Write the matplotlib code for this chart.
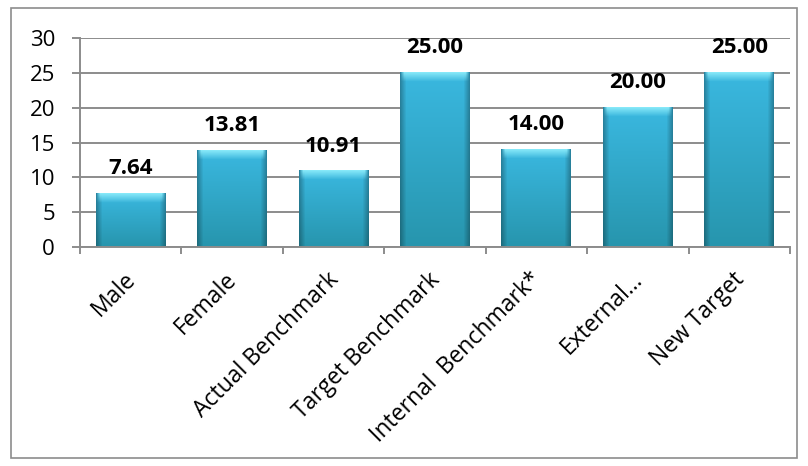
import numpy as np
import matplotlib.pyplot as plt
from matplotlib.patches import Rectangle

categories = ['Male', 'Female', 'Actual Benchmark', 'Target Benchmark',
              'Internal  Benchmark*', 'External...', 'New Target']
values = [7.64, 13.81, 10.91, 25.00, 14.00, 20.00, 25.00]

plt.rcParams['font.family'] = ['Open Sans', 'DejaVu Sans']

fig = plt.figure(figsize=(8.08, 4.66), dpi=100)
ax = fig.add_axes([80 / 808, 1 - 247 / 466, 710 / 808, 209 / 466])

# outer chart border
fig.patches.append(Rectangle((11 / 808, 1 - 458 / 466), 786 / 808, 450 / 466,
                             transform=fig.transFigure, fill=False,
                             edgecolor='#8c8c8c', linewidth=1.2))

x = np.arange(len(categories))
width = 0.69
ymax = 30
px_per_unit = 209 / ymax
bars = ax.bar(x, values, width=width, color='#33a9cf', zorder=2)

top_c = np.array([0x3a, 0xb8, 0xe0]) / 255
bot_c = np.array([0x27, 0x95, 0xad]) / 255
bevel_c = np.array([0x86, 0xe8, 0xf8]) / 255


def bar_image(h_px, w_px=70, bevel=9, edge=6):
    t = np.linspace(0, 1, h_px)[:, None, None]
    img = top_c * (1 - t) + bot_c * t
    img = np.repeat(img, w_px, axis=1)
    d = np.minimum(np.arange(w_px), np.arange(w_px)[::-1])
    side = 0.72 + 0.28 * np.clip(d / edge, 0, 1)
    img = img * side[None, :, None]
    r = np.arange(h_px)
    wgt = np.clip(1 - r / bevel, 0, 1)[:, None] * np.clip(d / 4, 0, 1)[None, :]
    img = img * (1 - wgt[..., None]) + bevel_c * wgt[..., None]
    return np.clip(img, 0, 1)


# glossy shading drawn into each bar
for b in bars:
    x0, w, h = b.get_x(), b.get_width(), b.get_height()
    img = bar_image(max(int(round(h * px_per_unit)), 2))
    ax.imshow(img, aspect='auto', extent=[x0, x0 + w, 0, h], origin='upper',
              interpolation='bilinear', zorder=2.1)
    b.set_visible(False)

for xi, v in zip(x, values):
    ax.annotate(f'{v:.2f}', (xi, v), xytext=(0, 14), textcoords='offset points',
                ha='center', va='baseline', fontsize=16, fontweight='bold',
                color='black')

ax.set_xlim(-0.5, len(categories) - 0.5)
ax.set_ylim(0, ymax)
ax.set_yticks(range(0, 31, 5))
ax.yaxis.grid(True, color='#8c8c8c', linewidth=1.4, zorder=0)
ax.set_axisbelow(True)

# category names, rotated and ending just under each bar
ax.set_xticks(x)
ax.set_xticklabels([])
for xi, name in zip(x, categories):
    ax.annotate(name, (xi, 0), xycoords=ax.get_xaxis_transform(),
                xytext=(1, -21), textcoords='offset points',
                rotation=45, rotation_mode='anchor', ha='right', va='center',
                fontsize=16.5, annotation_clip=False)
ax.set_xticks(np.arange(-0.5, len(categories)), minor=True)
ax.tick_params(axis='x', which='major', length=0)
ax.tick_params(axis='x', which='minor', length=5, color='#8c8c8c', width=1.4)
ax.tick_params(axis='y', length=6, color='#8c8c8c', width=1.4,
               labelsize=16, pad=12)

for s in ['top', 'right']:
    ax.spines[s].set_visible(False)
for s in ['left', 'bottom']:
    ax.spines[s].set_color('#8c8c8c')
    ax.spines[s].set_linewidth(1.4)

fig.savefig('out.png', dpi=100)
